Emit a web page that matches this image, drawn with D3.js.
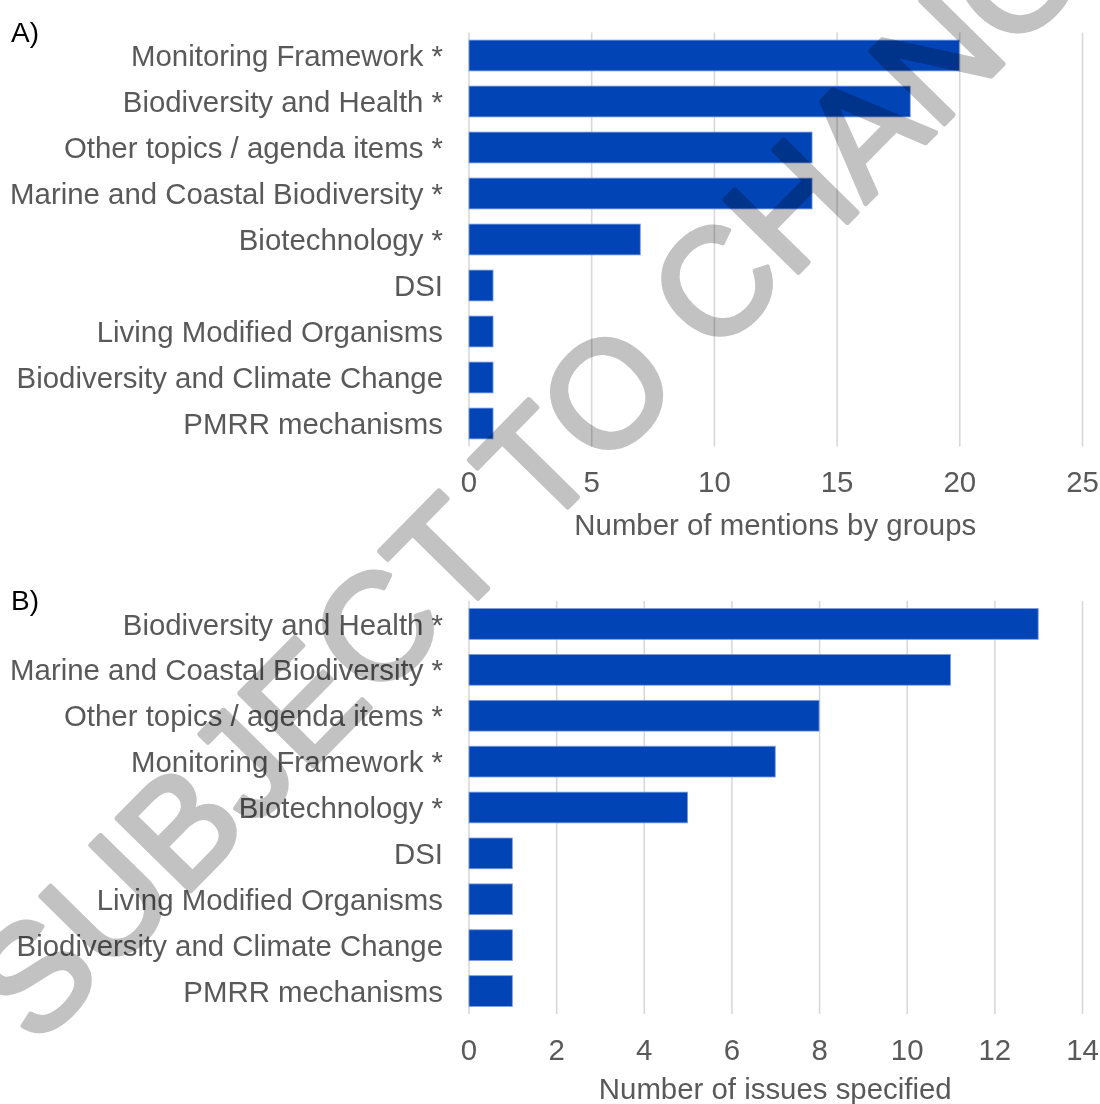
<!DOCTYPE html>
<html>
<head>
<meta charset="utf-8">
<script src="https://cdn.jsdelivr.net/npm/d3@7"></script>
<style>
  html, body { margin: 0; padding: 0; background: #ffffff; }
  svg { display: block; }
  text { font-family: "Liberation Sans", Arial, sans-serif; }
</style>
</head>
<body>
<svg id="chart" width="1100" height="1104"></svg>
<script>
// ---- data ----
const categoriesA = ["Monitoring Framework *", "Biodiversity and Health *", "Other topics / agenda items *",
  "Marine and Coastal Biodiversity *", "Biotechnology *", "DSI", "Living Modified Organisms",
  "Biodiversity and Climate Change", "PMRR mechanisms"];
const valuesA = [20, 18, 14, 14, 7, 1, 1, 1, 1];
const ticksA = [0, 5, 10, 15, 20, 25];
const titleA = "Number of mentions by groups";
const panelLabelA = "A)";

const categoriesB = ["Biodiversity and Health *", "Marine and Coastal Biodiversity *", "Other topics / agenda items *",
  "Monitoring Framework *", "Biotechnology *", "DSI", "Living Modified Organisms",
  "Biodiversity and Climate Change", "PMRR mechanisms"];
const valuesB = [13, 11, 8, 7, 5, 1, 1, 1, 1];
const ticksB = [0, 2, 4, 6, 8, 10, 12, 14];
const titleB = "Number of issues specified";
const panelLabelB = "B)";

const watermarkText = "SUBJECT TO CHANGE";

// ---- layout / style ----
const svg = d3.select("#chart");
const barColor = "#0044b6";
const textColor = "#595959";
const gridColor = "#d6d6d6";
const fontSize = 29.4;
const x0 = 468.5, x1 = 1082;
const labelX = 443;

function panel(cfg) {
  const g = svg.append("g");
  const x = d3.scaleLinear().domain([cfg.ticks[0], cfg.ticks[cfg.ticks.length - 1]]).range([x0, x1]);
  const y = d3.scaleBand().domain(cfg.cats).range([cfg.top, cfg.bottom])
    .paddingInner(0.33).paddingOuter(0.165);

  // gridlines + tick labels via axis
  const axis = d3.axisBottom(x).tickValues(cfg.ticks).tickFormat(d3.format("d"))
    .tickSize(-(cfg.bottom - cfg.top)).tickPadding(25);
  const ax = g.append("g").attr("transform", `translate(0,${cfg.bottom})`).call(axis);
  ax.select(".domain").remove();
  ax.selectAll(".tick line").attr("stroke", gridColor).attr("stroke-width", 1.5);
  ax.selectAll(".tick text").attr("fill", textColor).attr("font-size", fontSize)
    .attr("font-family", "'Liberation Sans', Arial, sans-serif");

  // bars
  g.selectAll("rect.bar").data(cfg.vals).join("rect").attr("class", "bar")
    .attr("x", x(0) + 0.5)
    .attr("y", (d, i) => y(cfg.cats[i]))
    .attr("width", d => x(d) - x(0) - 0.5)
    .attr("height", y.bandwidth())
    .attr("fill", barColor)
    .attr("stroke", "#7d9be0").attr("stroke-width", 0.8);

  // category labels
  g.selectAll("text.cat").data(cfg.cats).join("text").attr("class", "cat")
    .attr("x", labelX)
    .attr("y", d => y(d) + y.bandwidth() / 2)
    .attr("dy", "0.36em")
    .attr("text-anchor", "end")
    .attr("font-size", fontSize)
    .attr("fill", textColor)
    .text(d => d);

  // axis title
  g.append("text")
    .attr("x", (x0 + x1) / 2)
    .attr("y", cfg.titleY)
    .attr("text-anchor", "middle")
    .attr("font-size", fontSize)
    .attr("fill", textColor)
    .text(cfg.title);

  // panel label
  g.append("text")
    .attr("x", 11)
    .attr("y", cfg.labelY)
    .attr("font-size", 28)
    .attr("fill", "#000000")
    .text(cfg.panelLabel);
}

panel({ cats: categoriesA, vals: valuesA, ticks: ticksA, top: 32.5, bottom: 446.5,
        titleY: 535, title: titleA, panelLabel: panelLabelA, labelY: 42 });
panel({ cats: categoriesB, vals: valuesB, ticks: ticksB, top: 601, bottom: 1014,
        titleY: 1099, title: titleB, panelLabel: panelLabelB, labelY: 610 });

// watermark
svg.append("text")
  .attr("transform", "translate(36,1048) rotate(-45.5)")
  .attr("font-size", 150)
  .attr("fill", "#c2c2c2")
  .attr("stroke", "#c2c2c2")
  .attr("stroke-width", 5)
  .attr("stroke-linejoin", "round")
  .style("mix-blend-mode", "multiply")
  .text(watermarkText);
</script>
</body>
</html>
